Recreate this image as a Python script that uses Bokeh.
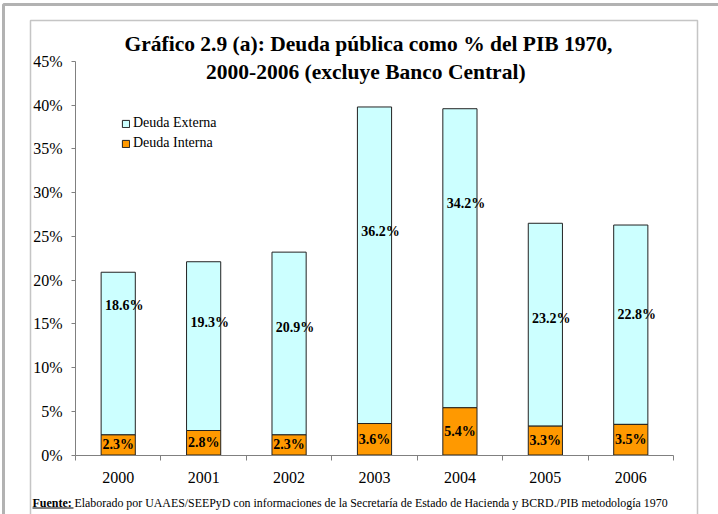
from bokeh.plotting import figure
from bokeh.models import (Range1d, LinearAxis, FixedTicker, Label, BoxAnnotation,
                          Legend, LegendItem, ColumnDataSource, PrintfTickFormatter)
from bokeh.embed import file_html
from bokeh.resources import INLINE
from bokeh.core.properties import value

# ---------------- data ----------------
years = ["2000", "2001", "2002", "2003", "2004", "2005", "2006"]
deuda_interna = [2.3, 2.8, 2.3, 3.6, 5.4, 3.3, 3.5]
deuda_externa = [18.6, 19.3, 20.9, 36.2, 34.2, 23.2, 22.8]
# level (in %) at which each "Deuda Externa" label sits in the original chart
externa_label_at = [17.1, 15.1, 14.6, 25.6, 28.8, 15.6, 16.1]
y_ticks = [0, 5, 10, 15, 20, 25, 30, 35, 40, 45]

title_1 = "Gráfico 2.9 (a): Deuda pública como % del PIB 1970,"
title_2 = "2000-2006  (excluye Banco Central)"
fuente_1 = "Fuente:"
fuente_2 = ("Elaborado por UAAES/SEEPyD con informaciones de la Secretaría de Estado "
            "de Hacienda y BCRD./PIB metodología 1970")

# ---------------- layout ----------------
W, H = 718, 514
X0, X1 = 75, 673        # data area, figure pixels
YTOP, YBOT = 61, 454.5  # pixel rows of top tick and 0
n = len(years)
px_cat = (X1 - X0) / n
px_pct = (YBOT - YTOP) / y_ticks[-1]

FONT = "Liberation Serif"

p = figure(width=W, height=H, output_backend="svg", toolbar_location=None,
           x_range=Range1d(-X0 / px_cat, (W - X0) / px_cat),
           y_range=Range1d(-(H - YBOT) / px_pct, y_ticks[-1] + YTOP / px_pct),
           x_axis_location=None, y_axis_location=None,
           min_border_left=0, min_border_right=0, min_border_top=0, min_border_bottom=0,
           outline_line_color=None, background_fill_color="white",
           border_fill_color="white")
p.xgrid.visible = False
p.ygrid.visible = False

cx = [i + 0.5 for i in range(n)]
total = [a + b for a, b in zip(deuda_interna, deuda_externa)]
src = ColumnDataSource(dict(
    x=cx, interna=deuda_interna, externa=deuda_externa, total=total,
    mid_int=[v / 2 for v in deuda_interna],
    ext_at=externa_label_at,
    lab_int=[f"{v:.1f}%" for v in deuda_interna],
    lab_ext=[f"{v:.1f}%" for v in deuda_externa],
))

BW = 0.40
r_ext = p.vbar(x="x", bottom="interna", top="total", width=BW, source=src,
               fill_color="#CCFFFF", line_color="#222222", line_width=1)
r_int = p.vbar(x="x", bottom=0, top="interna", width=BW, source=src,
               fill_color="#FF9900", line_color="#222222", line_width=1)

p.text(x="x", y="mid_int", text="lab_int", source=src, text_font=value(FONT),
       text_font_style="bold", text_font_size="14px", text_align="center",
       text_baseline="middle", text_color="black")
p.text(x="x", y="ext_at", text="lab_ext", source=src, text_font=value(FONT),
       text_font_style="bold", text_font_size="14px", text_align="center",
       text_baseline="middle", text_color="black", x_offset=6)

AX = "#808080"
yax = LinearAxis(fixed_location=0, bounds=(0, y_ticks[-1]),
                 ticker=FixedTicker(ticks=y_ticks),
                 formatter=PrintfTickFormatter(format="%d%%"),
                 axis_line_color=AX, major_tick_line_color=AX,
                 major_tick_out=4, major_tick_in=0, minor_tick_line_color=None,
                 major_label_standoff=9, major_label_text_font=FONT,
                 major_label_text_font_size="16px", major_label_text_color="black")
p.add_layout(yax, "left")

xax_ticks = LinearAxis(fixed_location=0, bounds=(0, n),
                       ticker=FixedTicker(ticks=list(range(n + 1))),
                       major_label_overrides={i: "" for i in range(n + 1)},
                       axis_line_color=AX, major_tick_line_color=AX,
                       major_tick_out=5, major_tick_in=0, minor_tick_line_color=None)
p.add_layout(xax_ticks, "below")

xax_labels = LinearAxis(fixed_location=0, ticker=FixedTicker(ticks=cx),
                        major_label_overrides={c: y for c, y in zip(cx, years)},
                        axis_line_color=None, major_tick_line_color=None,
                        major_tick_out=0, major_tick_in=0, minor_tick_line_color=None,
                        major_label_standoff=17, major_label_text_font=FONT,
                        major_label_text_font_size="16px", major_label_text_color="black")
p.add_layout(xax_labels, "below")

legend = Legend(items=[LegendItem(label="Deuda Externa", renderers=[r_ext]),
                       LegendItem(label="Deuda Interna", renderers=[r_int])],
                location=(121, 361), orientation="vertical",
                background_fill_alpha=0, border_line_color=None,
                padding=0, margin=0, spacing=0, label_height=20,
                glyph_height=9, glyph_width=9, label_standoff=3,
                label_text_font=FONT, label_text_font_size="14px",
                label_text_color="black")
p.add_layout(legend)

# titles
for txt, yy in [(title_1, H - 43), (title_2, H - 71)]:
    p.add_layout(Label(x=368, y=yy, x_units="screen", y_units="screen", text=txt,
                       text_align="center", text_baseline="middle", text_font=FONT,
                       text_font_style="bold", text_font_size="21.5px",
                       text_color="black"))

# source note
p.add_layout(Label(x=32, y=H - 502, x_units="screen", y_units="screen", text=fuente_1,
                   text_align="left", text_baseline="middle", text_font=FONT,
                   text_font_style="bold", text_font_size="12px", text_color="black"))
p.add_layout(Label(x=74, y=H - 502, x_units="screen", y_units="screen", text=fuente_2,
                   text_align="left", text_baseline="middle", text_font=FONT,
                   text_font_size="11.9px", text_color="black"))
p.add_layout(BoxAnnotation(left=32, right=73, top=H - 507, bottom=H - 508,
                           left_units="screen", right_units="screen",
                           top_units="screen", bottom_units="screen",
                           fill_color="black", fill_alpha=1, line_color=None))

# frames
p.add_layout(BoxAnnotation(left=30, right=697, top=H - 20, bottom=-30,
                           left_units="screen", right_units="screen",
                           top_units="screen", bottom_units="screen",
                           fill_color=None, line_color="#404040", line_width=1.5))
p.add_layout(BoxAnnotation(left=3, right=W + 60, top=H - 4, bottom=-60,
                           left_units="screen", right_units="screen",
                           top_units="screen", bottom_units="screen",
                           fill_color=None, line_color="black", line_width=3))

open("out.html", "w").write(file_html(p, INLINE))
